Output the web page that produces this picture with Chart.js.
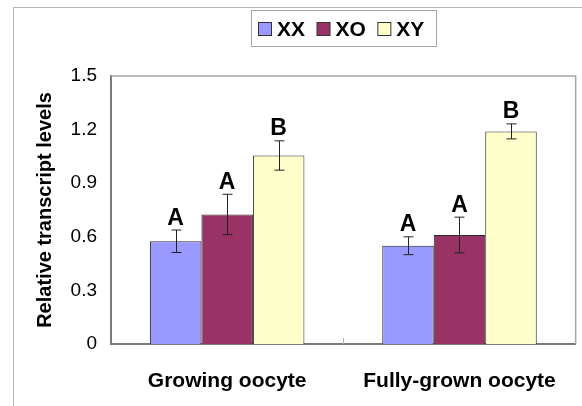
<!DOCTYPE html>
<html>
<head>
<meta charset="utf-8">
<script src="https://cdn.jsdelivr.net/npm/chart.js@4.4.1/dist/chart.umd.min.js"></script>
<style>
  html, body { margin: 0; padding: 0; background: #ffffff; }
  canvas { display: block; }
</style>
</head>
<body>
<canvas id="chart" width="582" height="406"></canvas>
<script>
// Categories and series
const categories = ['Growing oocyte', 'Fully-grown oocyte'];
const seriesNames = ['XX', 'XO', 'XY'];

// Mean relative transcript levels
const valuesXX = [0.575, 0.55];
const valuesXO = [0.725, 0.61];
const valuesXY = [1.055, 1.19];

// Error bar half-widths (same units as values)
const errorsXX = [0.063, 0.05];
const errorsXO = [0.113, 0.10];
const errorsXY = [0.082, 0.042];

// Significance group letters above each bar
const lettersXX = ['A', 'A'];
const lettersXO = ['A', 'A'];
const lettersXY = ['B', 'B'];

// Y axis ticks
const yTicks = [0, 0.3, 0.6, 0.9, 1.2, 1.5];

const FONT = '"Liberation Sans", Arial, Helvetica, sans-serif';
const colors = ['#9999FF', '#993366', '#FFFFCC'];

const datasets = [
  { label: seriesNames[0], data: valuesXX, errors: errorsXX, letters: lettersXX },
  { label: seriesNames[1], data: valuesXO, errors: errorsXO, letters: lettersXO },
  { label: seriesNames[2], data: valuesXY, errors: errorsXY, letters: lettersXY }
].map((d, i) => Object.assign(d, {
  backgroundColor: colors[i],
  borderColor: '#2a2a2a',
  borderWidth: 1,
  borderSkipped: 'bottom',
  categoryPercentage: 0.665,
  barPercentage: 1.0
}));

// Outer border of the figure and the plot frame (top/right)
const framePlugin = {
  id: 'frame',
  beforeDraw(chart) {
    const ctx = chart.ctx;
    ctx.save();
    ctx.fillStyle = '#ffffff';
    ctx.fillRect(0, 0, chart.width, chart.height);
    ctx.strokeStyle = '#b8b8b8';
    ctx.lineWidth = 1;
    ctx.strokeRect(13.5, 7.5, 800, 800);
    ctx.restore();
  },
  afterDraw(chart) {
    const ctx = chart.ctx;
    const a = chart.chartArea;
    ctx.save();
    ctx.strokeStyle = '#a6a6a6';
    ctx.lineWidth = 1.5;
    ctx.beginPath();
    ctx.moveTo(a.left, a.top);
    ctx.lineTo(a.right, a.top);
    ctx.lineTo(a.right, a.bottom);
    ctx.stroke();
    // category separator tick
    const xs = chart.scales.x;
    const mid = (xs.getPixelForValue(0) + xs.getPixelForValue(1)) / 2;
    ctx.strokeStyle = '#b0b0b0';
    ctx.lineWidth = 1;
    ctx.beginPath();
    ctx.moveTo(Math.round(mid) + 0.5, a.bottom);
    ctx.lineTo(Math.round(mid) + 0.5, a.bottom - 6);
    ctx.stroke();
    ctx.restore();
  }
};

// Error bars and group letters
const errorPlugin = {
  id: 'errorBars',
  afterDatasetsDraw(chart) {
    const ctx = chart.ctx;
    const ys = chart.scales.y;
    ctx.save();
    chart.data.datasets.forEach((ds, di) => {
      const meta = chart.getDatasetMeta(di);
      meta.data.forEach((bar, i) => {
        const v = ds.data[i], e = ds.errors[i];
        const x = Math.round(bar.x) + 0.5;
        const yTop = ys.getPixelForValue(v + e);
        const yBot = ys.getPixelForValue(v - e);
        ctx.strokeStyle = '#222222';
        ctx.lineWidth = 1;
        ctx.beginPath();
        ctx.moveTo(x, yTop); ctx.lineTo(x, yBot);
        ctx.moveTo(x - 5, yTop); ctx.lineTo(x + 5, yTop);
        ctx.moveTo(x - 5, yBot); ctx.lineTo(x + 5, yBot);
        ctx.stroke();
        ctx.fillStyle = '#000000';
        ctx.font = 'bold 23px ' + FONT;
        ctx.textAlign = 'center';
        ctx.textBaseline = 'alphabetic';
        ctx.fillText(ds.letters[i], bar.x, yTop - 5.5);
      });
    });
    ctx.restore();
  }
};

// Boxed legend at the top
const legendPlugin = {
  id: 'boxLegend',
  afterDraw(chart) {
    const ctx = chart.ctx;
    ctx.save();
    ctx.strokeStyle = '#a8a8a8';
    ctx.lineWidth = 1;
    ctx.strokeRect(251.5, 10.5, 185, 36);
    ctx.font = 'bold 21px ' + FONT;
    ctx.textBaseline = 'alphabetic';
    ctx.textAlign = 'left';
    let x = 258.5;
    chart.data.datasets.forEach(ds => {
      ctx.fillStyle = ds.backgroundColor;
      ctx.fillRect(x, 22.5, 13, 13);
      ctx.strokeStyle = '#333333';
      ctx.strokeRect(x, 22.5, 13, 13);
      ctx.fillStyle = '#000000';
      ctx.fillText(ds.label, x + 18.5, 35.5);
      x += 18.5 + ctx.measureText(ds.label).width + 12;
    });
    ctx.restore();
  }
};

new Chart(document.getElementById('chart'), {
  type: 'bar',
  data: { labels: categories, datasets },
  plugins: [framePlugin, errorPlugin, legendPlugin],
  options: {
    responsive: false,
    animation: false,
    devicePixelRatio: 1,
    layout: { padding: { left: 0, right: 5, top: 76, bottom: 0 } },
    plugins: { legend: { display: false }, tooltip: { enabled: false } },
    scales: {
      x: {
        grid: { display: false, drawTicks: false },
        border: { color: '#7a7a7a', width: 2 },
        ticks: { color: '#000000', padding: 25, font: { family: FONT, size: 21, weight: 'bold' } },
        afterFit(scale) { scale.height = 62; }
      },
      y: {
        min: 0,
        max: 1.5,
        afterBuildTicks(scale) { scale.ticks = yTicks.map(v => ({ value: v })); },
        grid: { display: false, drawTicks: false },
        border: { color: '#7a7a7a', width: 2 },
        ticks: {
          color: '#000000',
          padding: 14,
          font: { family: FONT, size: 19 },
          callback: v => String(v)
        },
        title: {
          display: true,
          text: 'Relative transcript levels',
          color: '#000000',
          font: { family: FONT, size: 20, weight: 'bold' },
          padding: { top: 33, bottom: 0 }
        },
        afterFit(scale) { scale.width = 111; }
      }
    }
  }
});
</script>
</body>
</html>
